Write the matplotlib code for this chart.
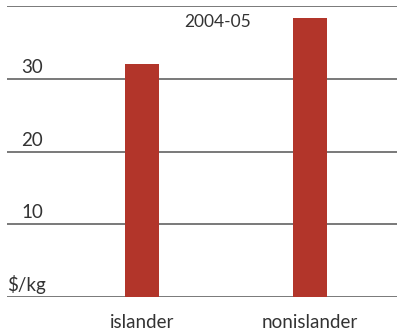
import matplotlib.pyplot as plt
from matplotlib.transforms import blended_transform_factory

categories = ["islander", "nonislander"]
values = [32.0, 38.4]
y_ticks = [10, 20, 30]
title = "2004-05"
unit = "$/kg"

bar_color = "#b2352a"
line_color = "#555555"
text_color = "#333333"
font = ["Lato", "DejaVu Sans"]

fig = plt.figure(figsize=(3.97, 3.35), dpi=100)
ax = fig.add_axes([7 / 397, 38 / 335, 390 / 397, 291 / 335])

x = list(range(len(categories)))
ax.bar(x, values, width=0.203, color=bar_color, zorder=3)

# horizontal rules at 0, 10, 20, 30, 40
for v in [0] + y_ticks + [40]:
    ax.axhline(v, color=line_color, linewidth=1.1, zorder=1)

ax.set_xlim(-0.806, 1.522)
ax.set_ylim(0, 40)
ax.axis("off")

trans = blended_transform_factory(ax.transAxes, ax.transData)
for v in y_ticks:
    ax.text(0.093, v + 0.4, str(v), transform=trans, ha="right", va="bottom",
            fontsize=13.5, color=text_color, family=font)
ax.text(0.0, 0.4, unit, transform=trans, ha="left", va="bottom",
        fontsize=13.5, color=text_color, family=font)

for xi, name in zip(x, categories):
    ax.text(xi, -2.4, name, ha="center", va="top", fontsize=13.5,
            color=text_color, family=font)

ax.text(0.541, 37.8, title, transform=trans, ha="center", va="center",
        fontsize=12.5, color=text_color, family=font)

fig.savefig("out.png", dpi=100)
